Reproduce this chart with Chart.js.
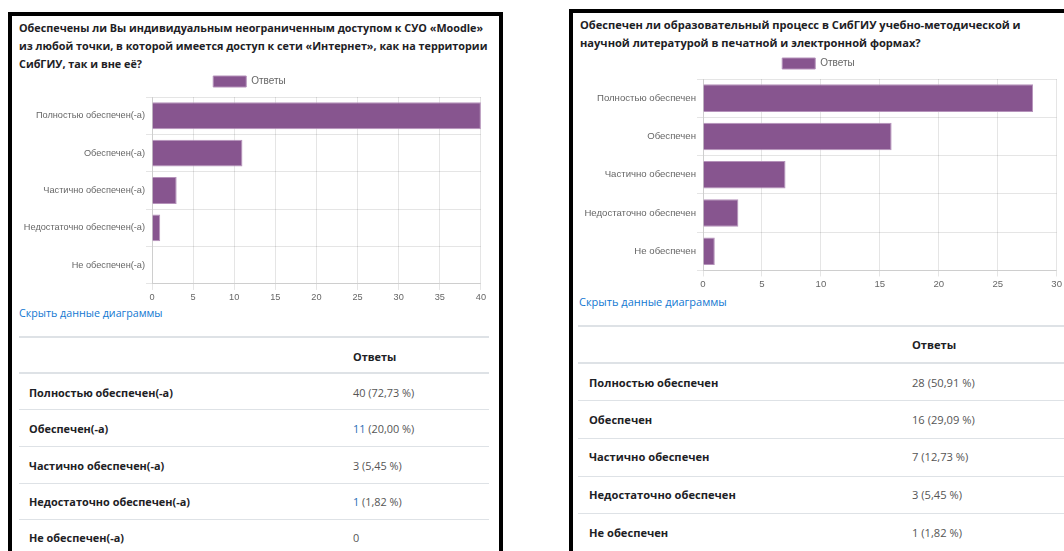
<!DOCTYPE html>
<html><head><meta charset="utf-8">
<script src="https://cdn.jsdelivr.net/npm/chart.js@4/dist/chart.umd.min.js"></script>
<style>
html,body{margin:0;padding:0;background:#fff;width:1064px;height:551px;overflow:hidden;position:relative;font-family:"Open Sans",sans-serif;}
.panel{position:absolute;border:4px solid #000;box-sizing:border-box;background:#fff;}
.title{position:absolute;font-weight:700;line-height:18px;color:#1d2125;white-space:nowrap;}
.link{position:absolute;color:#1177d1;white-space:nowrap;}
.row{position:absolute;border-top:1px solid #dee2e6;box-sizing:border-box;color:#1d2125;}
.row span{position:absolute;white-space:nowrap;}
.lab{font-weight:700;}
.val{color:#555;}
.hdr{font-weight:700;}
canvas{position:absolute;}
</style></head><body>
<div class="panel" style="left:8px;top:12px;width:495px;height:600px;"></div>
<div class="panel" style="left:569px;top:9px;width:520px;height:600px;"></div>

<div class="title" style="left:19px;top:19px;font-size:10.8px;">Обеспечены ли Вы индивидуальным неограниченным доступом к СУО «Moodle»<br>из любой точки, в которой имеется доступ к сети «Интернет», как на территории<br>СибГИУ, так и вне её?</div>
<div class="title" style="left:580px;top:16px;font-size:11.1px;">Обеспечен ли образовательный процесс в СибГИУ учебно-методической и<br>научной литературой в печатной и электронной формах?</div>

<canvas id="c1" width="477" height="239" style="left:11px;top:66px;"></canvas>
<canvas id="c2" width="491" height="244" style="left:573px;top:48px;"></canvas>

<div class="link" style="left:19px;top:306px;font-size:10.7px;">Скрыть данные диаграммы</div>
<div class="link" style="left:579px;top:294px;font-size:11px;">Скрыть данные диаграммы</div>

<div id="t1"></div>
<div id="t2"></div>

<script>
// ---- data ----
const seriesName = 'Ответы';
const categoriesA = ['Полностью обеспечен(-а)','Обеспечен(-а)','Частично обеспечен(-а)','Недостаточно обеспечен(-а)','Не обеспечен(-а)'];
const valuesA = [40, 11, 3, 1, 0];
const percentsA = ['72,73 %', '20,00 %', '5,45 %', '1,82 %', null];
const ticksA = [0, 5, 10, 15, 20, 25, 30, 35, 40];

const categoriesB = ['Полностью обеспечен','Обеспечен','Частично обеспечен','Недостаточно обеспечен','Не обеспечен'];
const valuesB = [28, 16, 7, 3, 1];
const percentsB = ['50,91 %', '29,09 %', '12,73 %', '5,45 %', '1,82 %'];
const ticksB = [0, 5, 10, 15, 20, 25, 30];

const barColor = '#87558f';
const barBorder = '#b592ba';
const chartFont = '"Liberation Sans", Arial, sans-serif';

function makeChart(id, cats, vals, ticks, fs, yWidth){
  new Chart(document.getElementById(id), {
    type: 'bar',
    data: { labels: cats, datasets: [{ label: seriesName, data: vals, backgroundColor: barColor, borderColor: barBorder, borderWidth: 1 }] },
    options: {
      indexAxis: 'y', responsive: false, animation: false,
      plugins: {
        legend: { labels: { boxWidth: 33, boxHeight: 11, color: '#666', font: { size: 10, family: chartFont } } },
        tooltip: { enabled: false }
      },
      scales: {
        x: { min: ticks[0], max: ticks[ticks.length-1],
             ticks: { stepSize: ticks[1]-ticks[0], color: '#666', font: { size: fs, family: chartFont }, padding: 2 },
             grid: { color: 'rgba(0,0,0,0.1)', tickLength: 6 }, border: { color: 'rgba(0,0,0,0.1)' } },
        y: { ticks: { color: '#666', font: { size: fs, family: chartFont }, padding: 1 },
             afterFit: (axis) => { axis.width = yWidth; },
             grid: { color: 'rgba(0,0,0,0.1)', tickLength: 6 }, border: { color: 'rgba(0,0,0,0.1)' } }
      }
    }
  });
}
makeChart('c1', categoriesA, valuesA, ticksA, 9.2, 141);
makeChart('c2', categoriesB, valuesB, ticksB, 9.6, 130);

function makeTable(id, cats, vals, pcts, x0, w, labX, valX, lines, hdrY, rowYs, blueIdx, fs){
  const host = document.getElementById(id);
  let html = '';
  html += `<div class="row" style="left:${x0}px;top:${lines[0]}px;width:${w}px;height:${lines[1]-lines[0]}px;border-top-width:2px;font-size:${fs}px;"><span class="hdr" style="left:${valX-x0}px;top:${hdrY-lines[0]-9}px;">${seriesName}</span></div>`;
  for (let i=0;i<cats.length;i++){
    const top = lines[i+1];
    const num = blueIdx.includes(i) ? `<span style="position:static;color:#2a6eb5;">${vals[i]}</span>` : `${vals[i]}`;
    const txt = pcts[i] ? `${num} (${pcts[i]})` : `${num}`;
    html += `<div class="row" style="left:${x0}px;top:${top}px;width:${w}px;height:40px;border-top-width:${i===0?2:1}px;font-size:${fs}px;"><span class="lab" style="left:${labX-x0}px;top:${rowYs[i]-top-9}px;">${cats[i]}</span><span class="val" style="left:${valX-x0}px;top:${rowYs[i]-top-9}px;">${txt}</span></div>`;
  }
  host.innerHTML = html;
}
makeTable('t1', categoriesA, valuesA, percentsA, 19, 470, 29, 353, [336,372,409,446,483,519], 356, [392,429,466,502,538], [1,3], 10.9);
makeTable('t2', categoriesB, valuesB, percentsB, 578, 500, 589, 912, [325,362,400,438,476,513], 344, [382,420,457,495,533], [], 11.15);
</script>
</body></html>
